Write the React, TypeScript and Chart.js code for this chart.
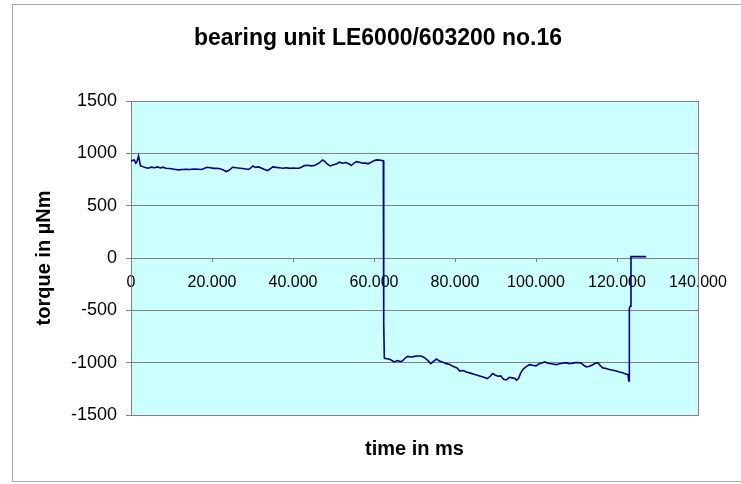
import { useEffect, useRef } from "react";
import { Chart, registerables } from "chart.js";

Chart.register(...registerables);

const chartTitle = "bearing unit LE6000/603200 no.16";
const xTitle = "time in ms";
const yTitle = "torque in µNm";

const xTicks = [0, 20000, 40000, 60000, 80000, 100000, 120000, 140000];
const yTicks = [1500, 1000, 500, 0, -500, -1000, -1500];

// time (ms) of each sample
const timeMs = [
  0, 800, 1200, 1500, 1850, 2100, 2300, 2900, 3500, 4200, 5000, 5800, 6500, 7300, 7900, 8600,
  9500, 10300, 11000, 11800, 12600, 13500, 14500, 15500, 16500, 17500, 18200, 18800, 19600,
  20400, 21200, 22000, 22800, 23500, 24200, 25100, 26000, 27000, 28000, 29000, 29600, 30100,
  30700, 31500, 32300, 33000, 33700, 34300, 35000, 35800, 36600, 37500, 38300, 39200, 40000,
  40800, 41500, 42200, 42800, 43600, 44500, 45300, 46100, 46700, 47300, 47900, 48500, 49200,
  50000, 50800, 51500, 52200, 53000, 53800, 54400, 55000, 55700, 56400, 57200, 58000, 58500,
  59300, 60000, 60600, 61400, 62000, 62300,
  62400, 62550,
  62700, 63300, 64000, 65000, 65800, 66500, 67000, 67600, 68300, 69200, 70000, 70800, 71600,
  72400, 73200, 74000, 74600, 75400, 76200, 77000, 77800, 78600, 79500, 80500, 81200, 82000,
  82800, 83800, 84700, 85500, 86300, 87100, 88000, 88700, 89300, 90000, 90700, 91300, 92000,
  92700, 93400, 94100, 94800, 95200, 95700, 96200, 96800, 97500, 98400, 99200, 100000, 100800,
  101600, 102200, 103000, 103800, 104500, 105000, 105800, 106600, 107400, 108200, 109000,
  109800, 110600, 111200, 111800, 112400, 113200, 114000, 114700, 115300, 115900, 116500,
  117300, 118100, 119000, 119800, 120600, 121400, 122000, 122700,
  122900, 123000, 123050, 123300, 123450, 127200,
];

// torque (µNm) of each sample
const torque = [
  928, 937, 906, 920, 975, 930, 883, 873, 864, 858, 868, 862, 870, 860, 868, 858,
  855, 850, 846, 842, 846, 848, 846, 850, 848, 845, 858, 867, 862,
  856, 858, 852, 840, 826, 838, 867, 862, 858, 852, 846, 860, 880,
  866, 870, 858, 846, 835, 850, 870, 866, 862, 858, 862, 856, 860,
  858, 858, 870, 883, 886, 880, 883, 900, 915, 937, 920, 896, 880,
  890, 900, 915, 905, 912, 900, 883, 905, 921, 915, 906, 906, 900,
  915, 930, 937, 935, 932, 930,
  -620, -955,
  -958, -962, -970, -993, -980, -990, -985, -960, -940, -946, -940, -936, -936,
  -950, -975, -1009, -990, -965, -985, -995, -1009, -1015, -1035, -1050, -1080, -1075,
  -1090, -1100, -1110, -1120, -1130, -1140, -1152, -1130, -1104, -1120, -1130, -1126, -1158,
  -1165, -1140, -1145, -1150, -1168, -1150, -1100, -1063, -1040, -1019, -1025, -1030, -1010,
  -1000, -993, -1005, -1010, -1015, -1019, -1010, -1005, -1000, -1009, -1005,
  -1000, -1000, -1005, -1025, -1041, -1035, -1020, -1005, -1000, -1030, -1050,
  -1055, -1065, -1072, -1080, -1090, -1097, -1105, -1114,
  -1175, -1175, -480, -460, 13, 13,
];

const FONT = "'Liberation Sans', Arial, sans-serif";

export default function App() {
  const ref = useRef<HTMLCanvasElement>(null);

  useEffect(() => {
    const canvas = ref.current;
    if (!canvas) return;
    const points = timeMs.map((t, i) => ({ x: t, y: torque[i] }));

    const framePlugin = {
      id: "frame",
      beforeDraw(chart: any) {
        const { ctx, chartArea: a, width, height } = chart;
        ctx.save();
        ctx.fillStyle = "#ffffff";
        ctx.fillRect(0, 0, width, height);
        ctx.strokeStyle = "#a8a8a8";
        ctx.lineWidth = 1;
        ctx.strokeRect(12.5, 4.5, width + 20, 477);
        ctx.fillStyle = "#ccffff";
        ctx.fillRect(a.left, a.top, a.right - a.left, a.bottom - a.top);
        ctx.restore();
      },
    };

    const chart = new Chart(canvas, {
      type: "line",
      data: {
        datasets: [
          {
            data: points,
            borderColor: "#000080",
            borderWidth: 1.6,
            pointRadius: 0,
            tension: 0,
            fill: false,
            xAxisID: "x",
            yAxisID: "y",
          },
        ],
      },
      options: {
        responsive: false,
        animation: false,
        events: [],
        layout: { padding: { left: 15, right: 0, top: 0, bottom: 0 } },
        plugins: {
          legend: { display: false },
          tooltip: { enabled: false },
          title: {
            display: true,
            text: chartTitle,
            color: "#000000",
            font: { family: FONT, size: 23, weight: "bold" },
            padding: { top: 25.2, bottom: 48.2 },
          },
        },
        scales: {
          x: {
            type: "linear",
            position: "bottom",
            min: 0,
            max: 140000,
            ticks: { display: false },
            grid: { display: false, drawTicks: false },
            border: { display: false },
            title: {
              display: true,
              text: xTitle,
              color: "#000000",
              font: { family: FONT, size: 20, weight: "bold" },
              padding: { top: 22, bottom: 23 },
            },
            afterFit(s: any) {
              s.height = 69;
            },
          },
          x2: {
            type: "linear",
            position: { y: 0 } as any,
            min: 0,
            max: 140000,
            afterBuildTicks(s: any) {
              s.ticks = xTicks.map((v) => ({ value: v }));
            },
            ticks: {
              color: "#000000",
              font: { family: FONT, size: 16 },
              padding: 11,
              maxRotation: 0,
              autoSkip: false,
              callback: (v: any) => (Number(v) === 0 ? "0" : (Number(v) / 1000).toFixed(3)),
            },
            grid: { drawOnChartArea: false, drawTicks: true, tickLength: 4, color: "#808080" },
            border: { display: false },
          },
          y: {
            type: "linear",
            position: "left",
            min: -1500,
            max: 1500,
            afterBuildTicks(s: any) {
              s.ticks = yTicks.map((v) => ({ value: v }));
            },
            ticks: {
              color: "#000000",
              font: { family: FONT, size: 18 },
              padding: 9,
              callback: (v: any) => String(v),
            },
            grid: { color: "#808080", tickLength: 5, drawTicks: true },
            border: { color: "#808080" },
            title: {
              display: true,
              text: yTitle,
              color: "#000000",
              font: { family: FONT, size: 20, weight: "bold" },
              padding: { top: 17, bottom: 0 },
            },
            afterFit(s: any) {
              s.width = 116;
            },
          },
          y2: {
            type: "linear",
            position: "right",
            min: -1500,
            max: 1500,
            ticks: { display: false },
            grid: { drawOnChartArea: false, drawTicks: false },
            border: { color: "#808080" },
            afterFit(s: any) {
              s.width = 43;
            },
          },
        },
      },
      plugins: [framePlugin],
    });

    return () => chart.destroy();
  }, []);

  return (
    <canvas
      ref={ref}
      width={741}
      height={484}
      style={{ position: "absolute", left: 0, top: 0, width: 741, height: 484 }}
    />
  );
}
